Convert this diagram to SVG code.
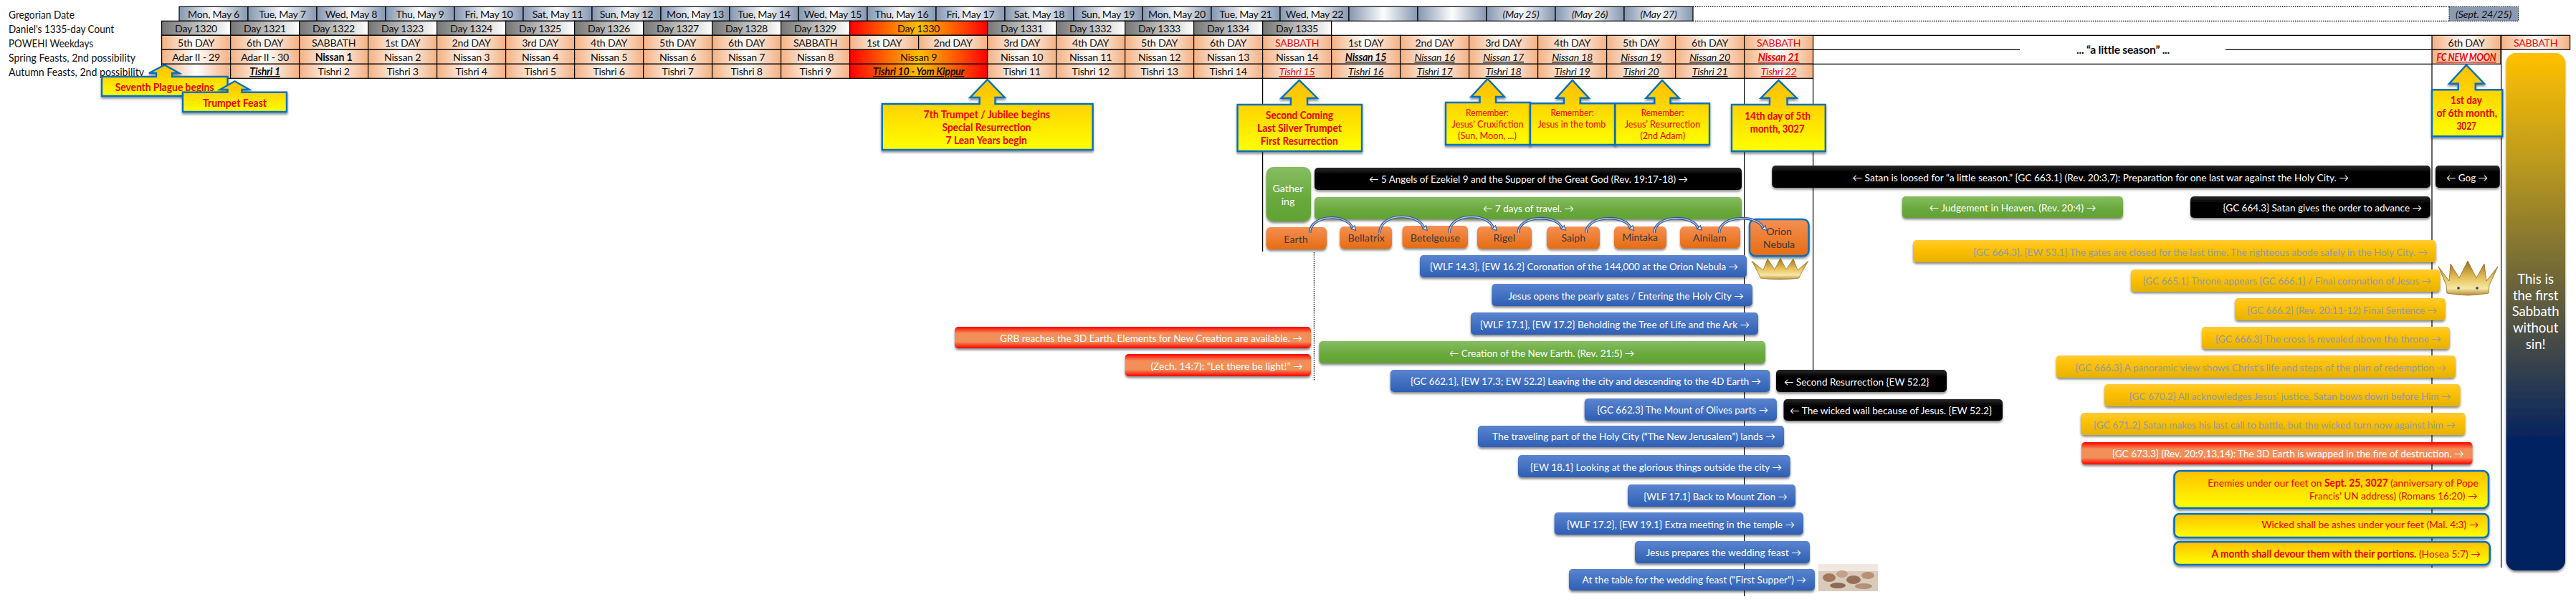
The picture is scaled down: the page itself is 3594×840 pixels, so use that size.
<svg xmlns="http://www.w3.org/2000/svg" width="3594" height="840" viewBox="0 0 3594 840">
<style>
text{font-family:Lato,"Liberation Sans",sans-serif;font-size:14.2px;fill:#111}
.g1 text,.g2 text,.g3 text{letter-spacing:-.25px}
.m{text-anchor:middle}
.c{width:96px;height:20px;stroke:#000;stroke-width:1.2}
.c2{width:192px;height:20px;stroke:#000;stroke-width:1.2;fill:url(#gFire)}
.g1 .c{fill:url(#gSteel)}
.g2 .c{fill:url(#gGrey)}
.g3 .c{fill:url(#gPeach)}
.r{fill:#f00400}
.iu{font-style:italic;text-decoration:underline}
.b{font-weight:700}
.i{font-style:italic}
.w{fill:#fff}
.k{fill:#3a3a3a}
.au{fill:#8f9aa8}
.lbl{font-size:14.8px}
.red{fill:#f00000}
.rem{fill:#f00000;font-size:12.8px}
.pan{font-size:18.5px;fill:#fff;text-anchor:middle}
.line{stroke:#000;stroke-width:1.2;fill:none}
.dot{stroke:#000;stroke-width:1.2;stroke-dasharray:1.5 1.5;fill:none}
.bar{filter:url(#sh)}
.blue{fill:url(#gBlue)}
.green{fill:url(#gGreen)}
.black{fill:url(#gBlack)}
.orange{fill:url(#gOrange)}
.redbar{fill:url(#gRed)}
.gold{fill:url(#gGold)}
.yel{fill:url(#gYel);stroke:#0070c0;stroke-width:2.6}
.call{fill:url(#gCall);stroke:#0070c0;stroke-width:2.4;filter:url(#sh)}
.cur1{fill:none;stroke:#2f5597;stroke-width:3.6}
.cur2{fill:none;stroke:#b9c6dc;stroke-width:1.4;marker-end:url(#ah)}
</style>
<defs>
<linearGradient id="gSteel"><stop offset="0" stop-color="#8496b0"/><stop offset=".5" stop-color="#fdfdfe"/><stop offset="1" stop-color="#8496b0"/></linearGradient>
<linearGradient id="gGrey"><stop offset="0" stop-color="#767676"/><stop offset="1" stop-color="#ffffff"/></linearGradient>
<linearGradient id="gPeach"><stop offset="0" stop-color="#f4b183"/><stop offset=".5" stop-color="#ffffff"/><stop offset="1" stop-color="#f4b183"/></linearGradient>
<linearGradient id="gFire"><stop offset="0" stop-color="#ff0000"/><stop offset=".5" stop-color="#ffc000"/><stop offset="1" stop-color="#ff0000"/></linearGradient>
<linearGradient id="gBlue" x2="0" y2="1"><stop offset="0" stop-color="#5a84cf"/><stop offset="1" stop-color="#2e5fb4"/></linearGradient>
<linearGradient id="gGreen" x2="0" y2="1"><stop offset="0" stop-color="#86bd62"/><stop offset=".6" stop-color="#69a83c"/><stop offset="1" stop-color="#62a235"/></linearGradient>
<linearGradient id="gBlack" x2="0" y2="1"><stop offset="0" stop-color="#2b2b2b"/><stop offset=".3" stop-color="#000"/><stop offset="1" stop-color="#000"/></linearGradient>
<linearGradient id="gOrange" x2="0" y2="1"><stop offset="0" stop-color="#f58f52"/><stop offset="1" stop-color="#e56c12"/></linearGradient>
<linearGradient id="gRed" x2="0" y2="1"><stop offset="0" stop-color="#ff0000"/><stop offset=".3" stop-color="#f28e58"/><stop offset=".7" stop-color="#f28e58"/><stop offset="1" stop-color="#ff0000"/></linearGradient>
<linearGradient id="gGold" x2="0" y2="1"><stop offset="0" stop-color="#ffcb38"/><stop offset=".4" stop-color="#ffc000"/><stop offset="1" stop-color="#e4b200"/></linearGradient>
<linearGradient id="gYel" x2="0" y2="1"><stop offset="0" stop-color="#ffc000"/><stop offset="1" stop-color="#ffff00"/></linearGradient>
<linearGradient id="gCall" x2="0" y2="1"><stop offset="0" stop-color="#ffc000"/><stop offset=".3" stop-color="#ffcf00"/><stop offset="1" stop-color="#ffff00"/></linearGradient>
<linearGradient id="gPanel" x2="0" y2="1"><stop offset="0" stop-color="#ffc000"/><stop offset=".2" stop-color="#bf9c1c"/><stop offset=".59" stop-color="#3b444b"/><stop offset=".76" stop-color="#002060"/><stop offset="1" stop-color="#002060"/></linearGradient>
<linearGradient id="gCrown" x2="0" y2="1"><stop offset="0" stop-color="#96701f"/><stop offset=".5" stop-color="#e8c25a"/><stop offset=".8" stop-color="#f7e6a6"/><stop offset="1" stop-color="#b48c30"/></linearGradient>
<filter id="sh" x="-5%" y="-20%" width="110%" height="150%"><feDropShadow dx="0" dy="2.5" stdDeviation="1.6" flood-color="#000" flood-opacity=".45"/></filter>
<marker id="ah" markerWidth="8" markerHeight="8" refX="4" refY="5" orient="auto" markerUnits="userSpaceOnUse"><path d="M.5 1L7.5 1L4 7Z" fill="#d6deeb" stroke="#2f5597"/></marker>
</defs>

<g id="vertical-guides">
<path class="line" d="M1761.6 109V351"/>
<path class="line" d="M2433.6 109V832"/>
<path class="line" d="M2529.6 109V517"/>
<path class="line" d="M3393 89V792"/>
<path class="line" d="M3489.6 69V792"/>
<path class="dot" d="M1833.4 352V531"/>
</g>

<g id="row-labels">
<text class="lbl" x="12" y="26" textLength="92" lengthAdjust="spacingAndGlyphs">Gregorian Date</text>
<text class="lbl" x="12" y="46" textLength="147" lengthAdjust="spacingAndGlyphs">Daniel's 1335-day Count</text>
<text class="lbl" x="12" y="66" textLength="118" lengthAdjust="spacingAndGlyphs">POWEHI Weekdays</text>
<text class="lbl" x="12" y="86" textLength="177" lengthAdjust="spacingAndGlyphs">Spring Feasts, 2nd possibility</text>
<text class="lbl" x="12" y="106" textLength="189" lengthAdjust="spacingAndGlyphs">Autumn Feasts, 2nd possibility</text>
</g>

<g id="row-gregorian" class="g1">
<rect class="c" x="250" y="9.3"/><rect class="c" x="346" y="9.3"/><rect class="c" x="442" y="9.3"/><rect class="c" x="538" y="9.3"/><rect class="c" x="634" y="9.3"/><rect class="c" x="730" y="9.3"/><rect class="c" x="826" y="9.3"/><rect class="c" x="922" y="9.3"/><rect class="c" x="1018" y="9.3"/><rect class="c" x="1114" y="9.3"/><rect class="c" x="1210" y="9.3"/><rect class="c" x="1306" y="9.3"/><rect class="c" x="1402" y="9.3"/><rect class="c" x="1498" y="9.3"/><rect class="c" x="1594" y="9.3"/><rect class="c" x="1690" y="9.3"/><rect class="c" x="1786" y="9.3"/><rect class="c" x="1882" y="9.3"/><rect class="c" x="1978" y="9.3"/><rect class="c" x="2074" y="9.3"/><rect class="c" x="2170" y="9.3"/><rect class="c" x="2266" y="9.3"/>
<text class="m" x="298" y="25">Mon, May 6</text><text class="m" x="394" y="25">Tue, May 7</text><text class="m" x="490" y="25">Wed, May 8</text><text class="m" x="586" y="25">Thu, May 9</text><text class="m" x="682" y="25">Fri, May 10</text><text class="m" x="778" y="25">Sat, May 11</text><text class="m" x="874" y="25">Sun, May 12</text><text class="m" x="970" y="25">Mon, May 13</text><text class="m" x="1066" y="25">Tue, May 14</text><text class="m" x="1162" y="25">Wed, May 15</text><text class="m" x="1258" y="25">Thu, May 16</text><text class="m" x="1354" y="25">Fri, May 17</text><text class="m" x="1450" y="25">Sat, May 18</text><text class="m" x="1546" y="25">Sun, May 19</text><text class="m" x="1642" y="25">Mon, May 20</text><text class="m" x="1738" y="25">Tue, May 21</text><text class="m" x="1834" y="25">Wed, May 22</text>
<text class="m i" x="2122" y="25">(May 25)</text><text class="m i" x="2218" y="25">(May 26)</text><text class="m i" x="2314" y="25">(May 27)</text>
<path class="dot" d="M2362 9.3H3417M2362 29.3H3417"/>
<rect x="3417" y="9.3" width="96.6" height="20" fill="#8a9ab2" stroke="#000" stroke-width="1" stroke-dasharray="1.5 1.5"/>
<text class="i" x="3426" y="25" textLength="78" lengthAdjust="spacingAndGlyphs">(Sept. 24/25)</text>
</g>

<g id="row-count" class="g2">
<rect class="c" x="225.6" y="29.3"/><rect class="c" x="321.6" y="29.3"/><rect class="c" x="417.6" y="29.3"/><rect class="c" x="513.6" y="29.3"/><rect class="c" x="609.6" y="29.3"/><rect class="c" x="705.6" y="29.3"/><rect class="c" x="801.6" y="29.3"/><rect class="c" x="897.6" y="29.3"/><rect class="c" x="993.6" y="29.3"/><rect class="c" x="1089.6" y="29.3"/><rect class="c2" x="1185.6" y="29.3"/><rect class="c" x="1377.6" y="29.3"/><rect class="c" x="1473.6" y="29.3"/><rect class="c" x="1569.6" y="29.3"/><rect class="c" x="1665.6" y="29.3"/><rect class="c" x="1761.6" y="29.3"/>
<text class="m" x="273.6" y="45">Day 1320</text><text class="m" x="369.6" y="45">Day 1321</text><text class="m" x="465.6" y="45">Day 1322</text><text class="m" x="561.6" y="45">Day 1323</text><text class="m" x="657.6" y="45">Day 1324</text><text class="m" x="753.6" y="45">Day 1325</text><text class="m" x="849.6" y="45">Day 1326</text><text class="m" x="945.6" y="45">Day 1327</text><text class="m" x="1041.6" y="45">Day 1328</text><text class="m" x="1137.6" y="45">Day 1329</text><text class="m" x="1281.6" y="45">Day 1330</text><text class="m" x="1425.6" y="45">Day 1331</text><text class="m" x="1521.6" y="45">Day 1332</text><text class="m" x="1617.6" y="45">Day 1333</text><text class="m" x="1713.6" y="45">Day 1334</text><text class="m" x="1809.6" y="45">Day 1335</text>
</g>

<g id="row-weekdays" class="g3">
<path class="line" d="M2529.6 49.3H3393M2529.6 69.3H2818M3105 69.3H3393M2529.6 89.3H3393"/>
<rect class="c" x="225.6" y="49.3"/><rect class="c" x="321.6" y="49.3"/><rect class="c" x="417.6" y="49.3"/><rect class="c" x="513.6" y="49.3"/><rect class="c" x="609.6" y="49.3"/><rect class="c" x="705.6" y="49.3"/><rect class="c" x="801.6" y="49.3"/><rect class="c" x="897.6" y="49.3"/><rect class="c" x="993.6" y="49.3"/><rect class="c" x="1089.6" y="49.3"/><rect class="c" x="1185.6" y="49.3"/><rect class="c" x="1281.6" y="49.3"/><rect class="c" x="1377.6" y="49.3"/><rect class="c" x="1473.6" y="49.3"/><rect class="c" x="1569.6" y="49.3"/><rect class="c" x="1665.6" y="49.3"/><rect class="c" x="1761.6" y="49.3"/><rect class="c" x="1857.6" y="49.3"/><rect class="c" x="1953.6" y="49.3"/><rect class="c" x="2049.6" y="49.3"/><rect class="c" x="2145.6" y="49.3"/><rect class="c" x="2241.6" y="49.3"/><rect class="c" x="2337.6" y="49.3"/><rect class="c" x="2433.6" y="49.3"/><rect class="c" x="3393" y="49.3"/><rect class="c" x="3489.6" y="49.3"/>
<text class="m" x="273.6" y="65">5th DAY</text><text class="m" x="369.6" y="65">6th DAY</text><text class="m" x="465.6" y="65">SABBATH</text><text class="m" x="561.6" y="65">1st DAY</text><text class="m" x="657.6" y="65">2nd DAY</text><text class="m" x="753.6" y="65">3rd DAY</text><text class="m" x="849.6" y="65">4th DAY</text><text class="m" x="945.6" y="65">5th DAY</text><text class="m" x="1041.6" y="65">6th DAY</text><text class="m" x="1137.6" y="65">SABBATH</text><text class="m" x="1233.6" y="65">1st DAY</text><text class="m" x="1329.6" y="65">2nd DAY</text><text class="m" x="1425.6" y="65">3rd DAY</text><text class="m" x="1521.6" y="65">4th DAY</text><text class="m" x="1617.6" y="65">5th DAY</text><text class="m" x="1713.6" y="65">6th DAY</text><text class="m r" x="1809.6" y="65">SABBATH</text><text class="m" x="1905.6" y="65">1st DAY</text><text class="m" x="2001.6" y="65">2nd DAY</text><text class="m" x="2097.6" y="65">3rd DAY</text><text class="m" x="2193.6" y="65">4th DAY</text><text class="m" x="2289.6" y="65">5th DAY</text><text class="m" x="2385.6" y="65">6th DAY</text><text class="m r" x="2481.6" y="65">SABBATH</text><text class="m" x="3441" y="65">6th DAY</text><text class="m r" x="3537.6" y="65">SABBATH</text>
<text class="b" x="2897" y="74.5" textLength="130" lengthAdjust="spacingAndGlyphs">... “a little season” ...</text>
</g>

<g id="row-spring" class="g3">
<rect class="c" x="225.6" y="69.3"/><rect class="c" x="321.6" y="69.3"/><rect class="c" x="417.6" y="69.3"/><rect class="c" x="513.6" y="69.3"/><rect class="c" x="609.6" y="69.3"/><rect class="c" x="705.6" y="69.3"/><rect class="c" x="801.6" y="69.3"/><rect class="c" x="897.6" y="69.3"/><rect class="c" x="993.6" y="69.3"/><rect class="c" x="1089.6" y="69.3"/><rect class="c2" x="1185.6" y="69.3"/><rect class="c" x="1377.6" y="69.3"/><rect class="c" x="1473.6" y="69.3"/><rect class="c" x="1569.6" y="69.3"/><rect class="c" x="1665.6" y="69.3"/><rect class="c" x="1761.6" y="69.3"/><rect class="c" x="1857.6" y="69.3"/><rect class="c" x="1953.6" y="69.3"/><rect class="c" x="2049.6" y="69.3"/><rect class="c" x="2145.6" y="69.3"/><rect class="c" x="2241.6" y="69.3"/><rect class="c" x="2337.6" y="69.3"/><rect class="c" x="2433.6" y="69.3"/><rect class="c" x="3393" y="69.3"/>
<text class="m" x="273.6" y="85">Adar II - 29</text><text class="m" x="369.6" y="85">Adar II - 30</text><text class="m b" x="465.6" y="85">Nissan 1</text><text class="m" x="561.6" y="85">Nissan 2</text><text class="m" x="657.6" y="85">Nissan 3</text><text class="m" x="753.6" y="85">Nissan 4</text><text class="m" x="849.6" y="85">Nissan 5</text><text class="m" x="945.6" y="85">Nissan 6</text><text class="m" x="1041.6" y="85">Nissan 7</text><text class="m" x="1137.6" y="85">Nissan 8</text><text class="m" x="1281.6" y="85">Nissan 9</text><text class="m" x="1425.6" y="85">Nissan 10</text><text class="m" x="1521.6" y="85">Nissan 11</text><text class="m" x="1617.6" y="85">Nissan 12</text><text class="m" x="1713.6" y="85">Nissan 13</text><text class="m" x="1809.6" y="85">Nissan 14</text><text class="m iu b" x="1905.6" y="85">Nissan 15</text><text class="m iu" x="2001.6" y="85">Nissan 16</text><text class="m iu" x="2097.6" y="85">Nissan 17</text><text class="m iu" x="2193.6" y="85">Nissan 18</text><text class="m iu" x="2289.6" y="85">Nissan 19</text><text class="m iu" x="2385.6" y="85">Nissan 20</text><text class="m iu b r" x="2481.6" y="85">Nissan 21</text>
<text class="iu b r" x="3399.5" y="85" textLength="83" lengthAdjust="spacingAndGlyphs">FC NEW MOON</text>
</g>

<g id="row-autumn" class="g3">
<rect class="c" x="225.6" y="89.3"/><rect class="c" x="321.6" y="89.3"/><rect class="c" x="417.6" y="89.3"/><rect class="c" x="513.6" y="89.3"/><rect class="c" x="609.6" y="89.3"/><rect class="c" x="705.6" y="89.3"/><rect class="c" x="801.6" y="89.3"/><rect class="c" x="897.6" y="89.3"/><rect class="c" x="993.6" y="89.3"/><rect class="c" x="1089.6" y="89.3"/><rect class="c2" x="1185.6" y="89.3"/><rect class="c" x="1377.6" y="89.3"/><rect class="c" x="1473.6" y="89.3"/><rect class="c" x="1569.6" y="89.3"/><rect class="c" x="1665.6" y="89.3"/><rect class="c" x="1761.6" y="89.3"/><rect class="c" x="1857.6" y="89.3"/><rect class="c" x="1953.6" y="89.3"/><rect class="c" x="2049.6" y="89.3"/><rect class="c" x="2145.6" y="89.3"/><rect class="c" x="2241.6" y="89.3"/><rect class="c" x="2337.6" y="89.3"/><rect class="c" x="2433.6" y="89.3"/>
<text class="m iu b" x="369.6" y="105">Tishri 1</text><text class="m" x="465.6" y="105">Tishri 2</text><text class="m" x="561.6" y="105">Tishri 3</text><text class="m" x="657.6" y="105">Tishri 4</text><text class="m" x="753.6" y="105">Tishri 5</text><text class="m" x="849.6" y="105">Tishri 6</text><text class="m" x="945.6" y="105">Tishri 7</text><text class="m" x="1041.6" y="105">Tishri 8</text><text class="m" x="1137.6" y="105">Tishri 9</text><text class="m iu b" x="1281.6" y="105">Tishri 10 - Yom Kippur</text><text class="m" x="1425.6" y="105">Tishri 11</text><text class="m" x="1521.6" y="105">Tishri 12</text><text class="m" x="1617.6" y="105">Tishri 13</text><text class="m" x="1713.6" y="105">Tishri 14</text><text class="m iu r" x="1809.6" y="105">Tishri 15</text><text class="m iu" x="1905.6" y="105">Tishri 16</text><text class="m iu" x="2001.6" y="105">Tishri 17</text><text class="m iu" x="2097.6" y="105">Tishri 18</text><text class="m iu" x="2193.6" y="105">Tishri 19</text><text class="m iu" x="2289.6" y="105">Tishri 20</text><text class="m iu" x="2385.6" y="105">Tishri 21</text><text class="m iu r" x="2481.6" y="105">Tishri 22</text>
</g>

<g id="sabbath-panel">
<rect x="3496.5" y="74" width="82.5" height="722" rx="14" fill="url(#gPanel)" filter="url(#sh)"/>
<text class="pan" x="3537.6" y="396">This is</text>
<text class="pan" x="3537.6" y="419">the first</text>
<text class="pan" x="3537.6" y="441">Sabbath</text>
<text class="pan" x="3537.6" y="464">without</text>
<text class="pan" x="3537.6" y="487">sin!</text>
</g>

<g id="callout-seventh-plague"><path class="call" d="M142 107H218V102H208L229.6 90.7L250 102H240V107H317.5V134H142Z"/><text class="red b" x="160.7" y="126.7" textLength="137.8" lengthAdjust="spacingAndGlyphs">Seventh Plague begins</text></g>
<g id="callout-trumpet-feast"><path class="call" d="M255 128.7H317.5V125H307L327.5 113.3L348 125H337.5V128.7H400V156H255Z"/><text class="red b" x="283" y="148.7" textLength="89" lengthAdjust="spacingAndGlyphs">Trumpet Feast</text></g>
<g id="callout-7th-trumpet"><path class="call" d="M1230.7 145H1366.7V136H1353.5L1377.6 111L1401.7 136H1388.5V145H1524.6V209H1230.7Z"/>
<text class="red b" x="1288.6" y="164.7" textLength="176.3" lengthAdjust="spacingAndGlyphs">7th Trumpet / Jubilee begins</text>
<text class="red b" x="1314.5" y="182.7" textLength="124" lengthAdjust="spacingAndGlyphs">Special Resurrection</text>
<text class="red b" x="1319.6" y="200.7" textLength="113.1" lengthAdjust="spacingAndGlyphs">7 Lean Years begin</text></g>
<g id="callout-second-coming"><path class="call" d="M1726.6 146H1801V137H1787.5L1812.7 112L1838 137H1824V146H1900V211H1726.6Z"/>
<text class="red b" x="1766" y="165.7" textLength="94" lengthAdjust="spacingAndGlyphs">Second Coming</text>
<text class="red b" x="1754" y="183.7" textLength="118" lengthAdjust="spacingAndGlyphs">Last Silver Trumpet</text>
<text class="red b" x="1758.8" y="201.7" textLength="108" lengthAdjust="spacingAndGlyphs">First Resurrection</text></g>
<g id="callout-crucifixion"><path class="call" d="M2017 143H2064.6V135H2052.6L2075.5 110L2099 135H2087V143H2135V202H2017Z"/>
<text class="rem" x="2045" y="161.5" textLength="60" lengthAdjust="spacingAndGlyphs">Remember:</text>
<text class="rem" x="2025.6" y="177.5" textLength="100" lengthAdjust="spacingAndGlyphs">Jesus’ Cruxifiction</text>
<text class="rem" x="2034" y="193.5" textLength="82" lengthAdjust="spacingAndGlyphs">(Sun, Moon, ...)</text></g>
<g id="callout-tomb"><path class="call" d="M2135 144.3H2182V136.7H2171.4L2193.8 112L2216.8 136.7H2204.7V144.3H2253.5V202H2135Z"/>
<text class="rem" x="2163.4" y="161.5" textLength="60.3" lengthAdjust="spacingAndGlyphs">Remember:</text>
<text class="rem" x="2145.6" y="177.5" textLength="94.7" lengthAdjust="spacingAndGlyphs">Jesus in the tomb</text></g>
<g id="callout-resurrection"><path class="call" d="M2253.5 144.3H2308.3V136.7H2296.6L2319 112L2342.5 136.7H2330.5V144.3H2385V202H2253.5Z"/>
<text class="rem" x="2289.7" y="161.5" textLength="59.7" lengthAdjust="spacingAndGlyphs">Remember:</text>
<text class="rem" x="2266.7" y="177.5" textLength="105.6" lengthAdjust="spacingAndGlyphs">Jesus’ Resurrection</text>
<text class="rem" x="2288.5" y="193.5" textLength="62.5" lengthAdjust="spacingAndGlyphs">(2nd Adam)</text></g>
<g id="callout-14th-day"><path class="call" d="M2416 146H2469V136.7H2456.7L2481.4 112L2506.7 136.7H2493.5V146H2546.8V211H2416Z"/>
<text class="red b" x="2434.3" y="166.7" textLength="91.7" lengthAdjust="spacingAndGlyphs">14th day of 5th</text>
<text class="red b" x="2441.8" y="184.7" textLength="75.8" lengthAdjust="spacingAndGlyphs">month, 3027</text></g>
<g id="callout-1st-day"><path class="call" d="M3393 125.3H3429.8V116.7H3417L3441 90.7L3466 116.7H3453.7V125.3H3491.3V190.3H3393Z"/>
<text class="red b" x="3419" y="144.7" textLength="43.8" lengthAdjust="spacingAndGlyphs">1st day</text>
<text class="red b" x="3399.5" y="162.7" textLength="84.5" lengthAdjust="spacingAndGlyphs">of 6th month,</text>
<text class="red b" x="3427.5" y="180.7" textLength="27.3" lengthAdjust="spacingAndGlyphs">3027</text></g>

<g id="gathering"><rect class="bar green" x="1766.5" y="233" width="62.5" height="76" rx="10"/><text class="m w" x="1797" y="268">Gather</text><text class="m w" x="1797" y="286">ing</text></g>
<g id="five-angels"><rect class="bar black" x="1834" y="234" width="596" height="31" rx="5"/><text class="w" x="1910" y="255" textLength="445" lengthAdjust="spacingAndGlyphs">← 5 Angels of Ezekiel 9 and the Supper of the Great God (Rev. 19:17-18) →</text></g>
<g id="seven-days"><rect class="bar green" x="1834" y="275" width="596" height="31" rx="5"/><text class="w" x="2069" y="295.7" textLength="127" lengthAdjust="spacingAndGlyphs">← 7 days of travel. →</text></g>

<g id="earth"><rect class="bar orange" x="1766.5" y="317" width="84.5" height="31" rx="6"/><text class="m k" x="1808" y="338.7">Earth</text></g>
<g id="bellatrix"><rect class="bar orange" x="1869.3" y="316" width="72.7" height="31" rx="6"/><text class="k" x="1880.4" y="337.3" textLength="51.4" lengthAdjust="spacingAndGlyphs">Bellatrix</text></g>
<g id="betelgeuse"><rect class="bar orange" x="1956.5" y="315" width="91.5" height="31" rx="6"/><text class="k" x="1967.7" y="336.7" textLength="69.3" lengthAdjust="spacingAndGlyphs">Betelgeuse</text></g>
<g id="rigel"><rect class="bar orange" x="2061" y="316" width="76" height="31" rx="6"/><text class="k" x="2083.5" y="337" textLength="30.5" lengthAdjust="spacingAndGlyphs">Rigel</text></g>
<g id="saiph"><rect class="bar orange" x="2158" y="316.3" width="74" height="31" rx="6"/><text class="k" x="2178.6" y="337.3" textLength="33.4" lengthAdjust="spacingAndGlyphs">Saiph</text></g>
<g id="mintaka"><rect class="bar orange" x="2252" y="316" width="73" height="31" rx="6"/><text class="k" x="2263.4" y="336.3" textLength="49.4" lengthAdjust="spacingAndGlyphs">Mintaka</text></g>
<g id="alnilam"><rect class="bar orange" x="2344" y="316" width="84" height="30" rx="6"/><text class="k" x="2361.8" y="336.7" textLength="47" lengthAdjust="spacingAndGlyphs">Alnilam</text></g>
<g id="orion-nebula"><rect class="bar orange" x="2441" y="306" width="82.6" height="51.3" rx="8" stroke="#0070c0" stroke-width="2.4"/><text class="m k" x="2482" y="327.7">Orion</text><text class="m k" x="2482" y="345.7">Nebula</text></g>

<g id="connectors">
<path class="cur1" d="M1827.6 325C1827.6 298 1882 298 1887 319"/><path class="cur2" d="M1827.6 325C1827.6 298 1882 298 1887 319"/>
<path class="cur1" d="M1925 325C1925 296 1981 296 1986.6 319"/><path class="cur2" d="M1925 325C1925 296 1981 296 1986.6 319"/>
<path class="cur1" d="M2022 325C2022 296 2078 296 2083.5 319"/><path class="cur2" d="M2022 325C2022 296 2078 296 2083.5 319"/>
<path class="cur1" d="M2118.4 325C2118.4 299 2174 299 2179.5 319"/><path class="cur2" d="M2118.4 325C2118.4 299 2174 299 2179.5 319"/>
<path class="cur1" d="M2213 325C2213 299 2270 299 2275 319"/><path class="cur2" d="M2213 325C2213 299 2270 299 2275 319"/>
<path class="cur1" d="M2308 325C2308 299 2364 299 2369.5 319"/><path class="cur2" d="M2308 325C2308 299 2364 299 2369.5 319"/>
<path class="cur1" d="M2398.6 325C2398.6 299 2455 299 2460 319"/><path class="cur2" d="M2398.6 325C2398.6 299 2455 299 2460 319"/>
</g>

<g id="wlf-14-3"><rect class="bar blue" x="1981" y="356" width="456" height="31" rx="5"/><text class="w" x="1995" y="376.7" textLength="430" lengthAdjust="spacingAndGlyphs">{WLF 14.3}, {EW 16.2} Coronation of the 144,000 at the Orion Nebula →</text></g>
<g id="crown-small"><path d="M2444 364L2460 377L2466 361L2476 376L2484 360L2492 376L2502 361L2508 377L2523 364L2512 383L2510 388Q2482 392 2456 388L2454 383Z" fill="url(#gCrown)" stroke="#8d6b22" stroke-width=".7"/></g>
<g id="pearly-gates"><rect class="bar blue" x="2081.4" y="396" width="363.6" height="31" rx="5"/><text class="w" x="2104.3" y="417.7" textLength="328.3" lengthAdjust="spacingAndGlyphs">Jesus opens the pearly gates / Entering the Holy City →</text></g>
<g id="tree-of-life"><rect class="bar blue" x="2052" y="436" width="401" height="31" rx="5"/><text class="w" x="2065" y="457.7" textLength="376" lengthAdjust="spacingAndGlyphs">{WLF 17.1}, {EW 17.2} Beholding the Tree of Life and the Ark →</text></g>
<g id="grb"><rect class="bar redbar" x="1332" y="456" width="497" height="30" rx="5"/><text class="w" x="1395" y="476.7" textLength="422" lengthAdjust="spacingAndGlyphs">GRB reaches the 3D Earth. Elements for New Creation are available. →</text></g>
<g id="creation"><rect class="bar green" x="1840.3" y="476" width="622.7" height="31" rx="5"/><text class="w" x="2021.7" y="497.7" textLength="258.6" lengthAdjust="spacingAndGlyphs">← Creation of the New Earth. (Rev. 21:5) →</text></g>
<g id="zech"><rect class="bar redbar" x="1569.6" y="494" width="259.4" height="31" rx="5"/><text class="w" x="1605.4" y="515.7" textLength="212.5" lengthAdjust="spacingAndGlyphs">(Zech. 14:7): “Let there be light!” →</text></g>
<g id="gc-662-1"><rect class="bar blue" x="1939.8" y="516" width="529.6" height="31" rx="5"/><text class="w" x="1968" y="536.7" textLength="489" lengthAdjust="spacingAndGlyphs">{GC 662.1}, {EW 17.3; EW 52.2} Leaving the city and descending to the 4D Earth →</text></g>
<g id="second-resurrection"><rect class="bar black" x="2478" y="516" width="238" height="31" rx="5"/><text class="w" x="2489" y="537.7" textLength="202.4" lengthAdjust="spacingAndGlyphs">← Second Resurrection {EW 52.2}</text></g>
<g id="gc-662-3"><rect class="bar blue" x="2210.7" y="556" width="268.3" height="31" rx="5"/><text class="w" x="2228.3" y="576.7" textLength="238.7" lengthAdjust="spacingAndGlyphs">{GC 662.3} The Mount of Olives parts →</text></g>
<g id="wicked-wail"><rect class="bar black" x="2488.5" y="557" width="305.5" height="30" rx="5"/><text class="w" x="2497" y="577.7" textLength="282" lengthAdjust="spacingAndGlyphs">← The wicked wail because of Jesus. {EW 52.2}</text></g>
<g id="traveling"><rect class="bar blue" x="2062" y="594" width="427" height="30" rx="5"/><text class="w" x="2082" y="614.3" textLength="395" lengthAdjust="spacingAndGlyphs">The traveling part of the Holy City (“The New Jerusalem”) lands →</text></g>
<g id="ew-18-1"><rect class="bar blue" x="2118" y="635" width="379.7" height="31" rx="5"/><text class="w" x="2135" y="656.7" textLength="351" lengthAdjust="spacingAndGlyphs">{EW 18.1} Looking at the glorious things outside the city →</text></g>
<g id="mount-zion"><rect class="bar blue" x="2271" y="676" width="234" height="31" rx="5"/><text class="w" x="2293.3" y="697.7" textLength="200.5" lengthAdjust="spacingAndGlyphs">{WLF 17.1} Back to Mount Zion →</text></g>
<g id="temple"><rect class="bar blue" x="2168.6" y="715" width="347.4" height="31" rx="5"/><text class="w" x="2186" y="736.7" textLength="318" lengthAdjust="spacingAndGlyphs">{WLF 17.2}, {EW 19.1} Extra meeting in the temple →</text></g>
<g id="prepares"><rect class="bar blue" x="2281" y="755" width="244" height="31" rx="5"/><text class="w" x="2296.4" y="775.7" textLength="216.6" lengthAdjust="spacingAndGlyphs">Jesus prepares the wedding feast →</text></g>
<g id="first-supper"><rect class="bar blue" x="2189" y="794" width="343" height="30" rx="5"/><text class="w" x="2207.6" y="814.3" textLength="312.4" lengthAdjust="spacingAndGlyphs">At the table for the wedding feast ("First Supper") →</text></g>
<g id="feast-picture"><rect x="2537" y="787" width="83" height="38" fill="#d9cbbb"/><rect x="2537" y="787" width="83" height="10" fill="#efe8df"/><ellipse cx="2552" cy="806" rx="9" ry="6" fill="#a5765c"/><ellipse cx="2570" cy="801" rx="8" ry="5" fill="#c4a08a"/><ellipse cx="2586" cy="809" rx="10" ry="6" fill="#96705a"/><ellipse cx="2606" cy="803" rx="9" ry="5" fill="#b98f76"/><ellipse cx="2564" cy="817" rx="11" ry="4" fill="#8a6a55"/><ellipse cx="2600" cy="818" rx="12" ry="4" fill="#b0917b"/></g>

<g id="satan-loosed"><rect class="bar black" x="2472.3" y="231" width="918.5" height="31" rx="5"/><text class="w" x="2584.4" y="252.7" textLength="692.6" lengthAdjust="spacingAndGlyphs">← Satan is loosed for “a little season.” {GC 663.1} (Rev. 20:3,7): Preparation for one last war against the Holy City. →</text></g>
<g id="gog"><rect class="bar black" x="3398" y="231" width="89.7" height="31" rx="5"/><text class="w" x="3413" y="252.7" textLength="58" lengthAdjust="spacingAndGlyphs">← Gog →</text></g>
<g id="judgement"><rect class="bar green" x="2653.8" y="274" width="308.2" height="30" rx="5"/><text class="w" x="2691.4" y="294.7" textLength="232.9" lengthAdjust="spacingAndGlyphs">← Judgement in Heaven. (Rev. 20:4) →</text></g>
<g id="satan-order"><rect class="bar black" x="3056" y="274" width="334.8" height="30" rx="5"/><text class="w" x="3101.5" y="294.7" textLength="277.5" lengthAdjust="spacingAndGlyphs">{GC 664.3} Satan gives the order to advance →</text></g>

<g id="gc-664-3"><rect class="bar gold" x="2669" y="335" width="729.7" height="31" rx="5"/><text class="au" x="2753" y="356.7" textLength="634" lengthAdjust="spacingAndGlyphs">{GC 664.3}, {EW 53.1} The gates are closed for the last time. The righteous abode safely in the Holy City. →</text></g>
<g id="gc-665-1"><rect class="bar gold" x="2972.8" y="376" width="431.7" height="31" rx="5"/><text class="au" x="2989.4" y="396.7" textLength="402.6" lengthAdjust="spacingAndGlyphs">{GC 665.1} Throne appears {GC 666.1} / Final coronation of Jesus →</text></g>
<g id="crown-large"><path d="M3402 372L3417 392L3419 368L3431 388L3443 364L3455 388L3466 368L3469 392L3485 372L3473 398L3472 409Q3443 415 3414 409L3413 398Z" fill="url(#gCrown)" stroke="#8d6b22" stroke-width=".8"/><circle cx="3430" cy="402" r="1.8" fill="#123a7a"/><circle cx="3456" cy="402" r="1.8" fill="#123a7a"/></g>
<g id="gc-666-2"><rect class="bar gold" x="3118" y="416" width="293.8" height="31" rx="5"/><text class="au" x="3135.5" y="437.7" textLength="264.5" lengthAdjust="spacingAndGlyphs">{GC 666.2} (Rev. 20:11-12) Final Sentence →</text></g>
<g id="gc-666-3a"><rect class="bar gold" x="3071.8" y="456" width="346.2" height="31" rx="5"/><text class="au" x="3091" y="477.7" textLength="315" lengthAdjust="spacingAndGlyphs">{GC 666.3} The cross is revealed above the throne →</text></g>
<g id="gc-666-3b"><rect class="bar gold" x="2868.6" y="496" width="557.4" height="31" rx="5"/><text class="au" x="2895.4" y="517.7" textLength="517.6" lengthAdjust="spacingAndGlyphs">{GC 666.3} A panoramic view shows Christ’s life and steps of the plan of redemption →</text></g>
<g id="gc-670-2"><rect class="bar gold" x="2936" y="536" width="496.6" height="31" rx="5"/><text class="au" x="2970.8" y="557.7" textLength="448.7" lengthAdjust="spacingAndGlyphs">{GC 670.2} All acknowledges Jesus’ justice, Satan bows down before Him →</text></g>
<g id="gc-671-2"><rect class="bar gold" x="2903" y="576" width="536.5" height="31" rx="5"/><text class="au" x="2921" y="597.7" textLength="504.8" lengthAdjust="spacingAndGlyphs">{GC 671.2} Satan makes his last call to battle, but the wicked turn now against him →</text></g>
<g id="gc-673-3"><rect class="bar redbar" x="2904" y="617" width="545.7" height="31" rx="5"/><text class="w" x="2946.9" y="637.7" textLength="490.8" lengthAdjust="spacingAndGlyphs">{GC 673.3} (Rev. 20:9,13,14): The 3D Earth is wrapped in the fire of destruction. →</text></g>
<g id="enemies"><rect class="bar yel" x="3033.5" y="657" width="438.5" height="52" rx="8"/><text class="red" x="3080.3" y="678.7" textLength="377.4" lengthAdjust="spacingAndGlyphs">Enemies under our feet on <tspan class="red b">Sept. 25, 3027</tspan> (anniversary of Pope</text><text class="red" x="3222" y="696.7" textLength="234.6" lengthAdjust="spacingAndGlyphs">Francis’ UN address) (Romans 16:20) →</text></g>
<g id="wicked-ashes"><rect class="bar yel" x="3033.5" y="717" width="438.5" height="33" rx="7"/><text class="red" x="3155.5" y="737.3" textLength="302.8" lengthAdjust="spacingAndGlyphs">Wicked shall be ashes under your feet (Mal. 4:3) →</text></g>
<g id="month-devour"><rect class="bar yel" x="3033.5" y="756" width="440.2" height="32" rx="7"/><text class="red" x="3085.4" y="777.7" textLength="375.6" lengthAdjust="spacingAndGlyphs"><tspan class="red b">A month shall devour them with their portions.</tspan> (Hosea 5:7) →</text></g>
</svg>
